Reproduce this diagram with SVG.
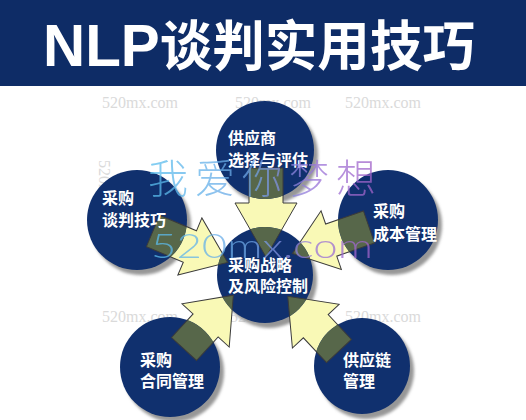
<svg xmlns="http://www.w3.org/2000/svg" xmlns:xlink="http://www.w3.org/1999/xlink" width="526" height="420" viewBox="0 0 526 420">
  <style>
    .banner { fill: #0e2c66; }
    .title { fill: #ffffff; font-family: "Noto Sans CJK SC", sans-serif; font-weight: bold; }
    .node { fill: #10306e; }
    .shadow { fill: #979797; filter: url(#blur); }
    .label { fill: #ffffff; font-family: "Noto Sans CJK SC", sans-serif; font-weight: bold; font-size: 16px; }
    .arrow { fill: #f9f9b6; stroke: #3b3b3b; stroke-width: 1; stroke-linejoin: miter; }
    .overlap { fill: #57674a; stroke: #3b3b3b; stroke-width: 1; }
    .wm { fill: #dadada; font-family: "Liberation Serif", serif; font-size: 16px; }
    .wmbig { fill: url(#wmgrad); opacity: 0.75; }
  </style>
  <defs>
    <filter id="blur" x="-20%" y="-20%" width="140%" height="140%">
      <feGaussianBlur stdDeviation="1.8"/>
    </filter>
    <linearGradient id="wmgrad" gradientUnits="userSpaceOnUse" x1="148" y1="0" x2="375" y2="0">
      <stop offset="0" stop-color="#58bfee"/>
      <stop offset="0.45" stop-color="#6fa6e6"/>
      <stop offset="0.75" stop-color="#9a72d8"/>
      <stop offset="1" stop-color="#a262c8"/>
    </linearGradient>
    <path id="ar-top" d="M249,168 H283 V203 H297 L266,257 L235,203 H249 Z"/>
    <path id="ar-left" transform="translate(153,231) rotate(22.8)" d="M0,-17 H40 V-31 L81,0 L40,31 V17 H0 Z"/>
    <path id="ar-right" transform="translate(369,227) rotate(160.9)" d="M0,-17 H40 V-31 L81,0 L40,31 V17 H0 Z"/>
    <path id="ar-bl" transform="translate(184,349) rotate(-47.5)" d="M0,-17 H32 V-32 L73,0 L32,32 V17 H0 Z"/>
    <path id="ar-br" transform="translate(339,351) rotate(-133.1)" d="M0,-17 H34 V-32 L75,0 L34,32 V17 H0 Z"/>
    <clipPath id="cp-top"><circle cx="265" cy="150" r="49"/></clipPath>
    <clipPath id="cp-left"><circle cx="137" cy="220" r="50"/></clipPath>
    <clipPath id="cp-right"><circle cx="388" cy="220" r="50"/></clipPath>
    <clipPath id="cp-center"><circle cx="265" cy="275" r="48"/></clipPath>
    <clipPath id="cp-bl"><circle cx="170" cy="367" r="50"/></clipPath>
    <clipPath id="cp-br"><circle cx="362" cy="366" r="48"/></clipPath>
  </defs>

  <rect x="0" y="0" width="526" height="420" fill="#ffffff"/>

  <g id="title">
    <rect class="banner" x="0" y="0" width="526" height="86"/>
    <text class="title" x="43" y="66" font-size="54" textLength="432" lengthAdjust="spacingAndGlyphs"><tspan font-family="Liberation Sans, sans-serif" font-size="60">NLP</tspan>谈判实用技巧</text>
  </g>

  <g id="watermarks-small">
    <text class="wm" x="102" y="108">520mx.com</text>
    <text class="wm" x="235" y="108">520mx.com</text>
    <text class="wm" x="345" y="108">520mx.com</text>
    <text class="wm" x="102" y="322">520mx.com</text>
    <text class="wm" x="230" y="322">520mx.com</text>
    <text class="wm" x="345" y="322">520mx.com</text>
    <text class="wm" transform="translate(99,160) rotate(90)">520mx.com</text>
    <text class="wm" transform="translate(421,258) rotate(-90)">520mx.com</text>
  </g>

  <g id="shadows">
    <circle class="shadow" cx="269" cy="155" r="49"/>
    <circle class="shadow" cx="141" cy="225" r="50"/>
    <circle class="shadow" cx="392" cy="225" r="50"/>
    <circle class="shadow" cx="269" cy="280" r="48"/>
    <circle class="shadow" cx="174" cy="372" r="50"/>
    <circle class="shadow" cx="366" cy="371" r="48"/>
  </g>

  <g id="connectors">
    <use xlink:href="#ar-top" class="arrow"/>
    <use xlink:href="#ar-left" class="arrow"/>
    <use xlink:href="#ar-right" class="arrow"/>
    <use xlink:href="#ar-bl" class="arrow"/>
    <use xlink:href="#ar-br" class="arrow"/>
  </g>

  <g id="node-supplier">
    <circle class="node" cx="265" cy="150" r="49"/>
    <use xlink:href="#ar-top" class="overlap" clip-path="url(#cp-top)"/>
    <text class="label" x="228" y="144">供应商</text>
    <text class="label" x="228" y="166">选择与评估</text>
  </g>

  <g id="node-negotiation">
    <circle class="node" cx="137" cy="220" r="50"/>
    <use xlink:href="#ar-left" class="overlap" clip-path="url(#cp-left)"/>
    <text class="label" x="102" y="204">采购</text>
    <text class="label" x="102" y="226">谈判技巧</text>
  </g>

  <g id="node-cost">
    <circle class="node" cx="388" cy="220" r="50"/>
    <use xlink:href="#ar-right" class="overlap" clip-path="url(#cp-right)"/>
    <text class="label" x="373" y="217">采购</text>
    <text class="label" x="373" y="240">成本管理</text>
  </g>

  <g id="node-strategy">
    <circle class="node" cx="265" cy="275" r="48"/>
    <use xlink:href="#ar-top" class="overlap" clip-path="url(#cp-center)"/>
    <use xlink:href="#ar-left" class="overlap" clip-path="url(#cp-center)"/>
    <use xlink:href="#ar-right" class="overlap" clip-path="url(#cp-center)"/>
    <use xlink:href="#ar-bl" class="overlap" clip-path="url(#cp-center)"/>
    <use xlink:href="#ar-br" class="overlap" clip-path="url(#cp-center)"/>
    <text class="label" x="228" y="271" font-size="17">采购战略</text>
    <text class="label" x="228" y="292" font-size="17">及风险控制</text>
  </g>

  <g id="node-contract">
    <circle class="node" cx="170" cy="367" r="50"/>
    <use xlink:href="#ar-bl" class="overlap" clip-path="url(#cp-bl)"/>
    <text class="label" x="140" y="366">采购</text>
    <text class="label" x="140" y="387">合同管理</text>
  </g>

  <g id="node-supplychain">
    <circle class="node" cx="362" cy="366" r="48"/>
    <use xlink:href="#ar-br" class="overlap" clip-path="url(#cp-br)"/>
    <text class="label" x="343" y="366">供应链</text>
    <text class="label" x="343" y="387">管理</text>
  </g>

  <g id="watermarks-large">
    <text class="wmbig" x="148" y="193" font-family="Noto Sans CJK SC, sans-serif" font-weight="300" font-size="40" letter-spacing="7">我爱你梦想</text>
    <text class="wmbig" x="151" y="258" font-family="Lato, sans-serif" font-weight="300" font-size="34" textLength="222" lengthAdjust="spacingAndGlyphs">520mx.com</text>
  </g>
</svg>
